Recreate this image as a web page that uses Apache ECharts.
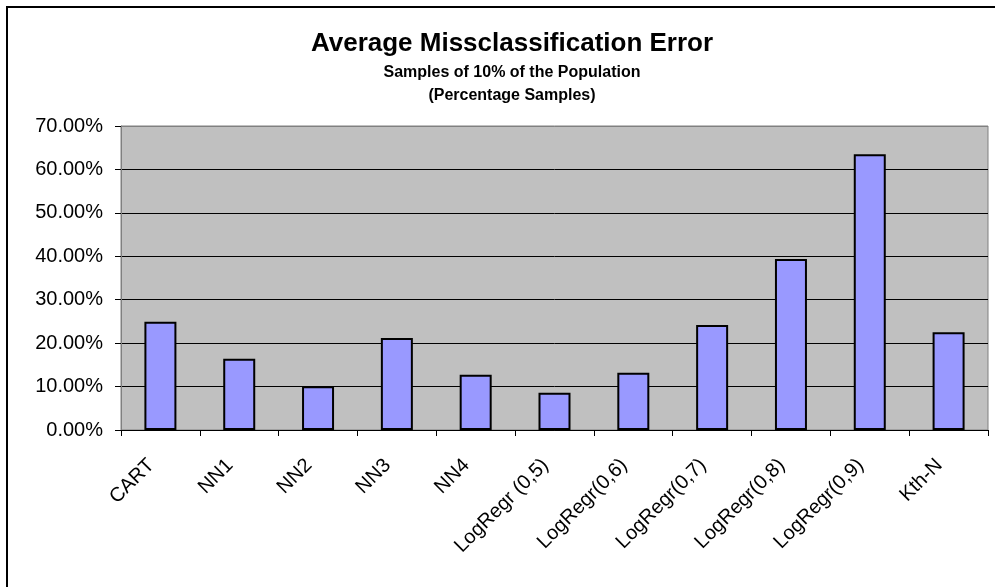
<!DOCTYPE html>
<html>
<head>
<meta charset="utf-8">
<script src="https://cdn.jsdelivr.net/npm/echarts@6/dist/echarts.min.js"></script>
<style>
  html, body { margin: 0; padding: 0; background: #ffffff; }
  #chart { width: 995px; height: 587px; }
</style>
</head>
<body>
<div id="chart"></div>
<script>
// Classifiers compared and their average misclassification error (fraction)
const categories = ['CART', 'NN1', 'NN2', 'NN3', 'NN4', 'LogRegr (0,5)', 'LogRegr(0,6)',
  'LogRegr(0,7)', 'LogRegr(0,8)', 'LogRegr(0,9)', 'Kth-N'];
const errorRates = [0.249, 0.164, 0.101, 0.212, 0.127, 0.086, 0.132, 0.242, 0.394, 0.635, 0.225];

// Value axis settings
const yMin = 0;
const yMax = 0.7;
const yStep = 0.1;

const titleText = 'Average Missclassification Error';
const subtitleLine1 = 'Samples of 10% of the Population';
const subtitleLine2 = '(Percentage Samples)';

const FONT = 'Arial, "Liberation Sans", sans-serif';

const chart = echarts.init(document.getElementById('chart'), null, { renderer: 'canvas' });

// one colour per horizontal rule; the top edge of the plot is grey like the frame
const gridColors = [];
for (let v = yMin; v <= yMax + 1e-9; v += yStep) {
  gridColors.push(Math.abs(v - yMax) < 1e-9 ? '#808080' : '#000000');
}

chart.setOption({
  animation: false,
  backgroundColor: '#ffffff',
  title: [
    { text: titleText, left: 507, top: 26, textAlign: 'center',
      textStyle: { fontFamily: FONT, fontSize: 26, fontWeight: 'bold', color: '#000' } },
    { text: subtitleLine1, left: 507, top: 60, textAlign: 'center',
      textStyle: { fontFamily: FONT, fontSize: 16, fontWeight: 'bold', color: '#000' } },
    { text: subtitleLine2, left: 507, top: 83, textAlign: 'center',
      textStyle: { fontFamily: FONT, fontSize: 16, fontWeight: 'bold', color: '#000' } }
  ],
  graphic: [
    // frame around the whole chart
    { type: 'rect', shape: { x: 7, y: 7, width: 1000, height: 600 },
      style: { fill: 'none', stroke: '#000', lineWidth: 2 }, silent: true, z: 100 }
  ],
  grid: {
    left: 121, right: 7, top: 126, bottom: 157,
    show: true, backgroundColor: '#c0c0c0', borderColor: '#808080', borderWidth: 1
  },
  xAxis: {
    type: 'category',
    data: categories,
    boundaryGap: true,
    axisLine: { show: true, lineStyle: { color: '#000', width: 1 } },
    axisTick: { show: true, alignWithLabel: false, length: 6, interval: 0,
      lineStyle: { color: '#000' } },
    axisLabel: { interval: 0, rotate: 45, margin: 23, padding: [0, 13, 0, 0],
      fontFamily: FONT, fontSize: 20, color: '#000' },
    splitLine: { show: false }
  },
  yAxis: {
    type: 'value',
    min: yMin, max: yMax, interval: yStep,
    axisLine: { show: true, lineStyle: { color: '#808080', width: 1 } },
    axisTick: { show: true, length: 6, lineStyle: { color: '#000' } },
    axisLabel: {
      margin: 18, fontFamily: FONT, fontSize: 20, color: '#000',
      formatter: v => (v * 100).toFixed(2) + '%'
    },
    splitLine: { show: true, lineStyle: { color: gridColors, width: 1 } }
  },
  series: [{
    type: 'bar',
    data: errorRates,
    barWidth: 32,
    itemStyle: { color: '#9999ff', borderColor: '#000', borderWidth: 2 }
  }]
});
</script>
</body>
</html>
